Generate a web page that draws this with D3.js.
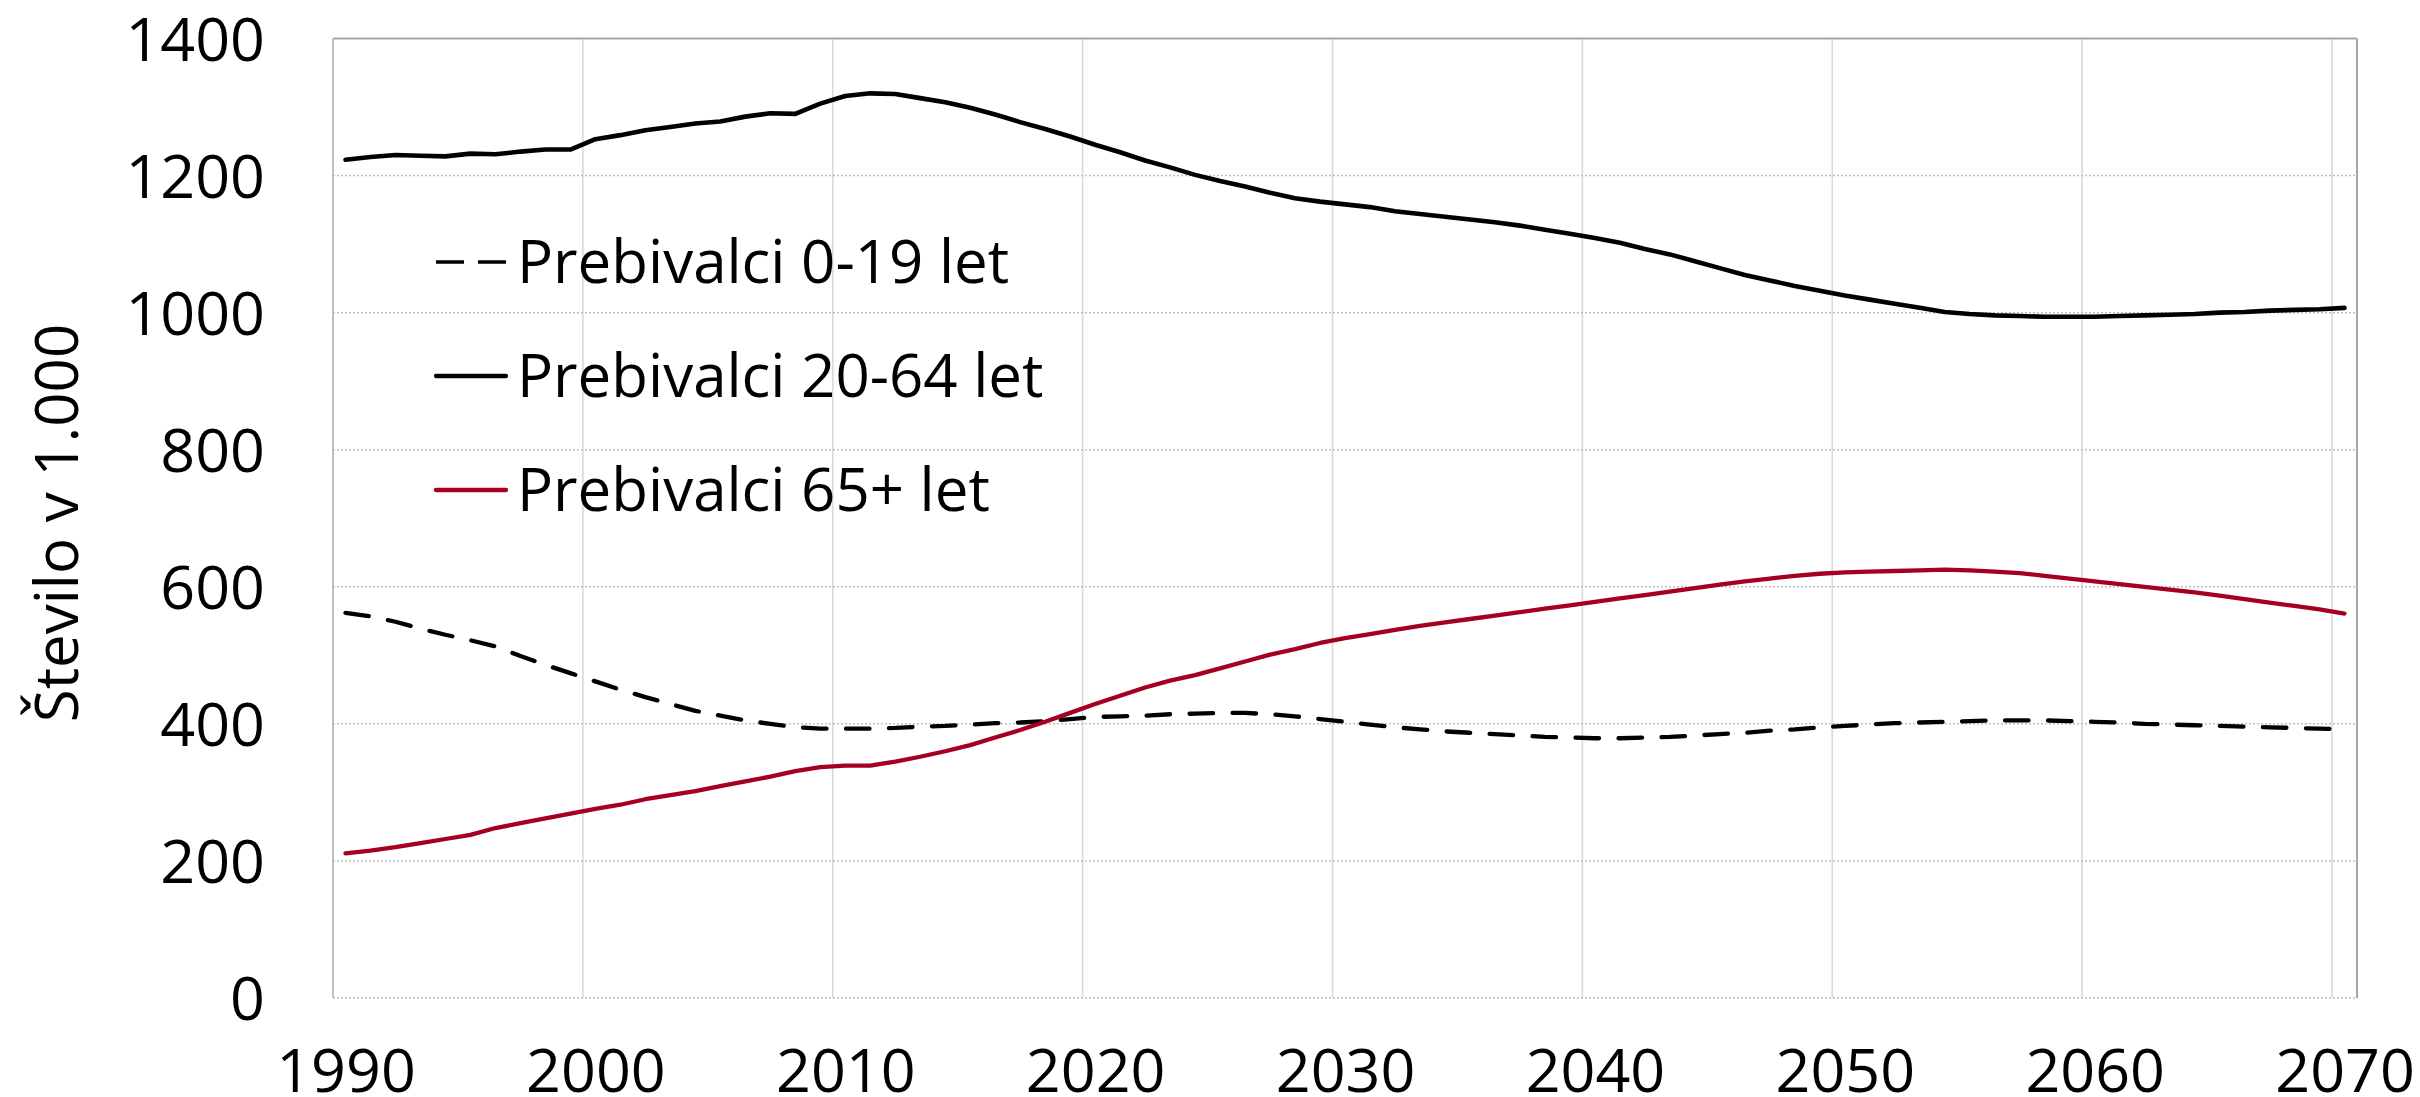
<!DOCTYPE html>
<html>
<head>
<meta charset="utf-8">
<script src="https://cdn.jsdelivr.net/npm/d3@7"></script>
<style>
  html, body { margin: 0; padding: 0; background: #fff; }
  svg { display: block; }
  text { font-family: "Segoe UI", "Open Sans", "Noto Sans", sans-serif; fill: #000; }
</style>
</head>
<body>
<svg id="chart" width="2420" height="1097"></svg>
<script>
// ---- data ----
const years = d3.range(1990, 2071);
const seriesNames = ["Prebivalci 0-19 let", "Prebivalci 20-64 let", "Prebivalci 65+ let"];
const xTickLabels = [1990, 2000, 2010, 2020, 2030, 2040, 2050, 2060, 2070];
const yTickLabels = [0, 200, 400, 600, 800, 1000, 1200, 1400];
const yAxisTitle = "Število v 1.000";

const age0_19 = [
  562, 557, 549, 539, 530, 522, 513, 499, 486, 474,
  462, 450, 439, 429, 419, 412, 405, 400, 395, 393,
  393, 393, 394, 396, 397, 399, 401, 402, 404, 407,
  410, 411, 412, 414, 415, 416, 416, 414, 411, 407,
  403, 399, 395, 392, 389, 387, 385, 383, 381, 380,
  379, 379, 380, 381, 383, 385, 387, 390, 392, 395,
  397, 399, 401, 402, 403, 404, 405, 405, 405, 404,
  403, 402, 400, 399, 398, 397, 396, 395, 394, 393,
  392
];
const age20_64 = [
  1223, 1227, 1230, 1229, 1228, 1232, 1231, 1235, 1238, 1238,
  1253, 1259, 1266, 1271, 1276, 1279, 1286, 1291, 1290, 1305,
  1316, 1320, 1319, 1313, 1307, 1299, 1289, 1278, 1268, 1257,
  1245, 1234, 1222, 1212, 1201, 1192, 1184, 1175, 1167, 1162,
  1158, 1154, 1148, 1144, 1140, 1136, 1132, 1127, 1121, 1115,
  1109, 1102, 1093, 1085, 1075, 1065, 1055, 1047, 1039, 1032,
  1025, 1019, 1013, 1007, 1001, 998, 996, 995, 994, 994,
  994, 995, 996, 997, 998, 1000, 1001, 1003, 1004, 1005,
  1007
];
const age65plus = [
  211, 215, 220, 226, 232, 238, 248, 255, 262, 269,
  276, 282, 290, 296, 302, 309, 316, 323, 331, 337,
  339, 339, 345, 352, 360, 369, 380, 391, 403, 416,
  429, 441, 453, 463, 471, 481, 491, 501, 509, 518,
  525, 531, 537, 543, 548, 553, 558, 563, 568, 573,
  578, 583, 588, 593, 598, 603, 608, 612, 616, 619,
  621, 622, 623, 624, 625, 624, 622, 620, 616, 612,
  608, 604, 600, 596, 592, 587, 582, 577, 572, 567,
  561
];

// ---- layout ----
const svg = d3.select("#chart");
const plot = { left: 333, right: 2357, top: 38.5, bottom: 998 };

const x = d3.scaleLinear().domain([1989.5, 2070.5]).range([plot.left, plot.right]);
const y = d3.scaleLinear().domain([0, 1400]).range([plot.bottom, plot.top]);

// vertical gridlines (category boundaries)
svg.append("g")
  .selectAll("line")
  .data(xTickLabels.slice(1))
  .join("line")
  .attr("x1", d => x(d - 0.5)).attr("x2", d => x(d - 0.5))
  .attr("y1", plot.top).attr("y2", plot.bottom)
  .attr("stroke", "#d9d9d9").attr("stroke-width", 1.6);

// horizontal dotted gridlines
svg.append("g")
  .selectAll("line")
  .data(yTickLabels.filter(v => v < 1400))
  .join("line")
  .attr("x1", plot.left).attr("x2", plot.right)
  .attr("y1", d => y(d)).attr("y2", d => y(d))
  .attr("stroke", "#bfbfbf").attr("stroke-width", 1.5)
  .attr("stroke-dasharray", "2,2");

// plot border: top & right darker, left lighter
svg.append("line")
  .attr("x1", plot.left).attr("x2", plot.right)
  .attr("y1", plot.top).attr("y2", plot.top)
  .attr("stroke", "#a6a6a6").attr("stroke-width", 2);
svg.append("line")
  .attr("x1", plot.right).attr("x2", plot.right)
  .attr("y1", plot.top).attr("y2", plot.bottom)
  .attr("stroke", "#a6a6a6").attr("stroke-width", 2);
svg.append("line")
  .attr("x1", plot.left).attr("x2", plot.left)
  .attr("y1", plot.top).attr("y2", plot.bottom)
  .attr("stroke", "#bfbfbf").attr("stroke-width", 2);

// y axis labels
const yAxis = d3.axisLeft(y).tickValues(yTickLabels).tickSize(0).tickPadding(0).tickFormat(d3.format("d"));
const gy = svg.append("g").attr("transform", `translate(265,0)`).call(yAxis);
gy.select(".domain").remove();
gy.selectAll("text")
  .attr("font-size", 61)
  .attr("font-family", '"Segoe UI", "Open Sans", sans-serif')
  .attr("fill", "#000")
  .attr("dy", "0.36em");

// x axis labels
const xAxis = d3.axisBottom(x).tickValues(xTickLabels).tickSize(0).tickPadding(0).tickFormat(d3.format("d"));
const gx = svg.append("g").attr("transform", `translate(0,1092)`).call(xAxis);
gx.select(".domain").remove();
gx.selectAll("text")
  .attr("font-size", 61)
  .attr("font-family", '"Segoe UI", "Open Sans", sans-serif')
  .attr("fill", "#000")
  .attr("y", 0).attr("dy", 0);

// y axis title
svg.append("text")
  .attr("transform", `translate(78,523) rotate(-90)`)
  .attr("text-anchor", "middle")
  .attr("font-size", 60)
  .text(yAxisTitle);

// ---- lines ----
const line = d3.line()
  .x((d, i) => x(years[i]))
  .y(d => y(d));

const styles = [
  { data: age0_19, color: "#000", width: 4.3, dash: "23.5 19.5", legendDash: "28 14", legendWidth: 3.3 },
  { data: age20_64, color: "#000", width: 4.6, dash: null, legendDash: null, legendWidth: 4.3 },
  { data: age65plus, color: "#A50021", width: 4.3, dash: null, legendDash: null, legendWidth: 4.3 }
];

styles.forEach(s => {
  svg.append("path")
    .datum(s.data)
    .attr("d", line)
    .attr("fill", "none")
    .attr("stroke", s.color)
    .attr("stroke-width", s.width)
    .attr("stroke-linejoin", "round")
    .attr("stroke-linecap", "round")
    .attr("stroke-dasharray", s.dash);
});

// ---- legend ----
const legendY = [262, 376, 490];
const lg = svg.append("g");
seriesNames.forEach((name, i) => {
  const s = styles[i];
  lg.append("line")
    .attr("x1", 436).attr("x2", 506)
    .attr("y1", legendY[i]).attr("y2", legendY[i])
    .attr("stroke", s.color)
    .attr("stroke-width", s.legendWidth)
    .attr("stroke-linecap", s.legendDash ? "butt" : "round")
    .attr("stroke-dasharray", s.legendDash);
  lg.append("text")
    .attr("x", 517)
    .attr("y", legendY[i] + 21)
    .attr("font-size", 60)
    .text(name);
});
</script>
</body>
</html>
